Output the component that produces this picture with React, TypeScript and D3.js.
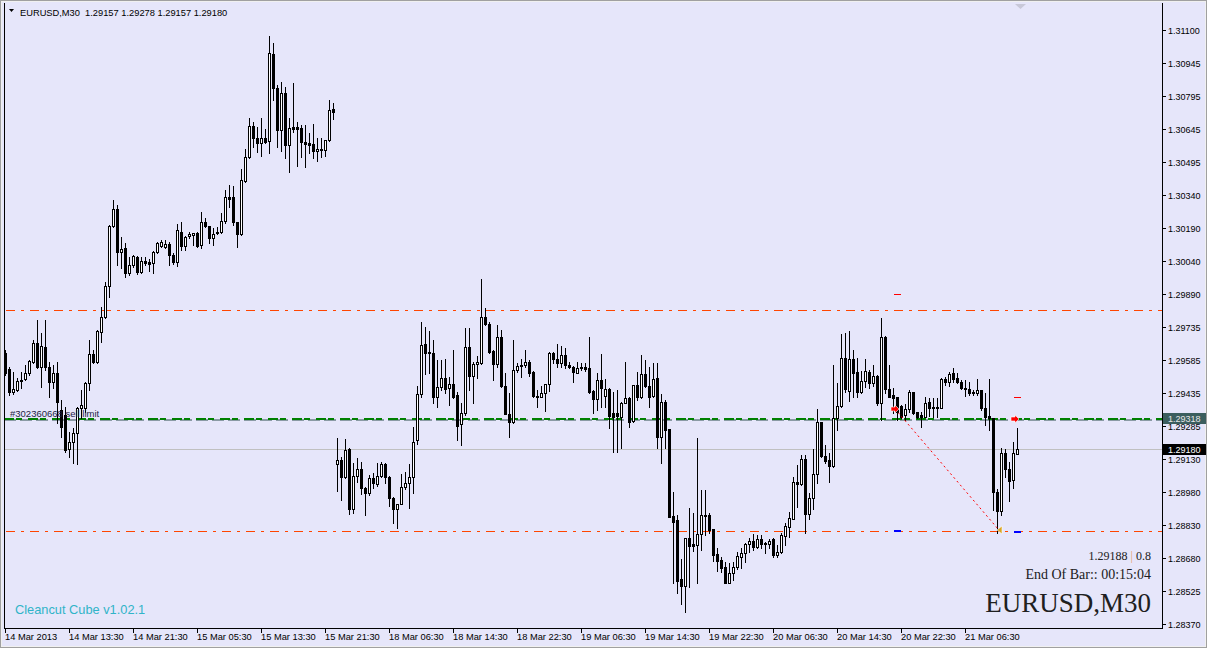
import React from "react";
import * as d3 from "d3";

// OHLC of each M30 bar, oldest first
const ohlc: [number, number, number, number][] = [
  [1.29621, 1.29634, 1.2952, 1.29529], [1.29547, 1.29556, 1.29428, 1.29442], [1.29442, 1.29533, 1.29432, 1.29455],
  [1.29451, 1.29506, 1.29446, 1.29492], [1.29492, 1.29533, 1.2946, 1.29497], [1.29501, 1.29566, 1.29497, 1.29529],
  [1.29529, 1.29589, 1.2952, 1.29584], [1.29579, 1.2968, 1.29575, 1.29667], [1.29667, 1.29772, 1.29552, 1.29556],
  [1.29556, 1.29712, 1.29465, 1.29653], [1.29648, 1.29772, 1.29543, 1.29556], [1.29556, 1.29579, 1.29419, 1.29488],
  [1.29488, 1.29566, 1.2946, 1.29529], [1.29529, 1.29579, 1.29299, 1.29396], [1.29359, 1.29405, 1.29235, 1.29281],
  [1.29336, 1.29373, 1.29166, 1.29175], [1.2918, 1.29258, 1.29143, 1.29212], [1.29212, 1.29276, 1.29116, 1.29253],
  [1.29253, 1.29373, 1.29111, 1.29368], [1.29368, 1.29451, 1.29322, 1.29382], [1.29368, 1.29488, 1.2935, 1.29483],
  [1.29483, 1.2968, 1.29451, 1.29616], [1.29616, 1.29634, 1.29575, 1.29579], [1.29579, 1.29726, 1.29575, 1.29722],
  [1.29717, 1.29832, 1.29671, 1.29786], [1.29786, 1.29947, 1.29781, 1.29928], [1.29928, 1.30208, 1.29878, 1.30204],
  [1.30204, 1.30323, 1.30199, 1.30282], [1.30282, 1.303, 1.30025, 1.30084], [1.30084, 1.30153, 1.30011, 1.30098],
  [1.30103, 1.30126, 1.2997, 1.29988], [1.29988, 1.30061, 1.29979, 1.30025], [1.30025, 1.30071, 1.30015, 1.30066],
  [1.30061, 1.30066, 1.29983, 1.29992], [1.29992, 1.30061, 1.29988, 1.30043], [1.30043, 1.30061, 1.30025, 1.30034],
  [1.30038, 1.30052, 1.29997, 1.30029], [1.30034, 1.30089, 1.29988, 1.30084], [1.30084, 1.3013, 1.3008, 1.30126],
  [1.30112, 1.30139, 1.30107, 1.3013], [1.30107, 1.30139, 1.30103, 1.30121], [1.30121, 1.3013, 1.30025, 1.30071],
  [1.30071, 1.3008, 1.30029, 1.30038], [1.30038, 1.30213, 1.3002, 1.30185], [1.30176, 1.30222, 1.30093, 1.30112],
  [1.30112, 1.30158, 1.30093, 1.30153], [1.30158, 1.30176, 1.30149, 1.30167], [1.30162, 1.30171, 1.30116, 1.30171],
  [1.30171, 1.30176, 1.30107, 1.30112], [1.30116, 1.30268, 1.30103, 1.30222], [1.30222, 1.3024, 1.30199, 1.30204],
  [1.30204, 1.30204, 1.30126, 1.30149], [1.30149, 1.30194, 1.30116, 1.30167], [1.30176, 1.30199, 1.30167, 1.30171],
  [1.30176, 1.30263, 1.30171, 1.30227], [1.30227, 1.30369, 1.30217, 1.30337], [1.30337, 1.30392, 1.30291, 1.30328],
  [1.30337, 1.30387, 1.30208, 1.30222], [1.30222, 1.30222, 1.30107, 1.30167], [1.30167, 1.30465, 1.30162, 1.30415],
  [1.3041, 1.30557, 1.30406, 1.3052], [1.3052, 1.30699, 1.30516, 1.30663], [1.30663, 1.30681, 1.30566, 1.30608],
  [1.30608, 1.30658, 1.30543, 1.30585], [1.30585, 1.30699, 1.30525, 1.30608], [1.30608, 1.30649, 1.30585, 1.30589],
  [1.30594, 1.31076, 1.30539, 1.30998], [1.30993, 1.31044, 1.30782, 1.30837], [1.30837, 1.30851, 1.30566, 1.30644],
  [1.30644, 1.30865, 1.30548, 1.30814], [1.30814, 1.30842, 1.30516, 1.30575], [1.30575, 1.30699, 1.30451, 1.30653],
  [1.30658, 1.3086, 1.30635, 1.30649], [1.30658, 1.30681, 1.30479, 1.30649], [1.30653, 1.30667, 1.3052, 1.30589],
  [1.30589, 1.30667, 1.30474, 1.3058], [1.30585, 1.3063, 1.30539, 1.30575], [1.3058, 1.30672, 1.30516, 1.30548],
  [1.30548, 1.30608, 1.30502, 1.30557], [1.30552, 1.30608, 1.3052, 1.30557], [1.30552, 1.30598, 1.30525, 1.30598],
  [1.30598, 1.30782, 1.30594, 1.30736], [1.30741, 1.30768, 1.30695, 1.30727], [1.29111, 1.2923, 1.28987, 1.29129],
  [1.29129, 1.29143, 1.28946, 1.29051], [1.29051, 1.29226, 1.29047, 1.29175], [1.2918, 1.29185, 1.28882, 1.28905],
  [1.28905, 1.29116, 1.28886, 1.29056], [1.29056, 1.29139, 1.29029, 1.29088], [1.29088, 1.2912, 1.28973, 1.29001],
  [1.29001, 1.29006, 1.28877, 1.28978], [1.28978, 1.29061, 1.28969, 1.29047], [1.29047, 1.2907, 1.29001, 1.29024],
  [1.29019, 1.29116, 1.2901, 1.29056], [1.29056, 1.2912, 1.29051, 1.29111], [1.29111, 1.29116, 1.29024, 1.29051],
  [1.29051, 1.29056, 1.28918, 1.28955], [1.28955, 1.2896, 1.2884, 1.28905], [1.28905, 1.28928, 1.28817, 1.28928],
  [1.28928, 1.29065, 1.28928, 1.29006], [1.29006, 1.29074, 1.28996, 1.29024], [1.29024, 1.29111, 1.28909, 1.29051],
  [1.29051, 1.29281, 1.28978, 1.29212], [1.29221, 1.29469, 1.29203, 1.29432], [1.29432, 1.29763, 1.29419, 1.29657],
  [1.29662, 1.2974, 1.29524, 1.29621], [1.29625, 1.29722, 1.29529, 1.29621], [1.29621, 1.2968, 1.29391, 1.29419],
  [1.29419, 1.29589, 1.29373, 1.29465], [1.29465, 1.29589, 1.29451, 1.29506], [1.29506, 1.29593, 1.29437, 1.29455],
  [1.2946, 1.29511, 1.29382, 1.29478], [1.29478, 1.29634, 1.29414, 1.29419], [1.29428, 1.29442, 1.29221, 1.29286],
  [1.29295, 1.29391, 1.29198, 1.29345], [1.29345, 1.29735, 1.29336, 1.29648], [1.29648, 1.29735, 1.29451, 1.29515],
  [1.29515, 1.29579, 1.29391, 1.2957], [1.2957, 1.29607, 1.29506, 1.29579], [1.29575, 1.2996, 1.2957, 1.29786],
  [1.29786, 1.29827, 1.29749, 1.29754], [1.29754, 1.29763, 1.29621, 1.29625], [1.2963, 1.29634, 1.29497, 1.2957],
  [1.2957, 1.29749, 1.29556, 1.29694], [1.29694, 1.29726, 1.29465, 1.29469], [1.29469, 1.29529, 1.29341, 1.29341],
  [1.29341, 1.29437, 1.29235, 1.29304], [1.29304, 1.2968, 1.29299, 1.29543], [1.29543, 1.29575, 1.29533, 1.29561],
  [1.29561, 1.29593, 1.29511, 1.29566], [1.29566, 1.29634, 1.29556, 1.29579], [1.29579, 1.29589, 1.29515, 1.29529],
  [1.29533, 1.29538, 1.29419, 1.29423], [1.29423, 1.29451, 1.29373, 1.29419], [1.29419, 1.29469, 1.29419, 1.29437],
  [1.29437, 1.29478, 1.29354, 1.29478], [1.29478, 1.29625, 1.29446, 1.29621], [1.29621, 1.29625, 1.29575, 1.29593],
  [1.29593, 1.29662, 1.29556, 1.29575], [1.29575, 1.29653, 1.29556, 1.29612], [1.29612, 1.29644, 1.29552, 1.29566],
  [1.29566, 1.29579, 1.29552, 1.29556], [1.29556, 1.29561, 1.29488, 1.29533], [1.29529, 1.29579, 1.29529, 1.29552],
  [1.29552, 1.29575, 1.29543, 1.29556], [1.29556, 1.29575, 1.29538, 1.29547], [1.29552, 1.29694, 1.29437, 1.29442],
  [1.29446, 1.29451, 1.29345, 1.2941], [1.2941, 1.29529, 1.29359, 1.29497], [1.29497, 1.29616, 1.29373, 1.2946],
  [1.29423, 1.29501, 1.29373, 1.29455], [1.29455, 1.2946, 1.29276, 1.29332], [1.29345, 1.29442, 1.29166, 1.29327],
  [1.29345, 1.29451, 1.29166, 1.29332], [1.29327, 1.29396, 1.29185, 1.29391], [1.29391, 1.29579, 1.29391, 1.29414],
  [1.29414, 1.29419, 1.29281, 1.29304], [1.29309, 1.29474, 1.29304, 1.29474], [1.29474, 1.29533, 1.29405, 1.29419],
  [1.29419, 1.29612, 1.29414, 1.29524], [1.29524, 1.29589, 1.29465, 1.29469], [1.29469, 1.29556, 1.29373, 1.29419],
  [1.29423, 1.29575, 1.29419, 1.29501], [1.29506, 1.29575, 1.29185, 1.29235], [1.29235, 1.29432, 1.29116, 1.29396],
  [1.29396, 1.29405, 1.29185, 1.29267], [1.29272, 1.29272, 1.28868, 1.28868], [1.28872, 1.28983, 1.28565, 1.28845],
  [1.28854, 1.28877, 1.28519, 1.28574], [1.28583, 1.28675, 1.28469, 1.28551], [1.28551, 1.28772, 1.28432, 1.28772],
  [1.28772, 1.28909, 1.28547, 1.28735], [1.28744, 1.28886, 1.28712, 1.28735], [1.28739, 1.2923, 1.28565, 1.2879],
  [1.2879, 1.28992, 1.28716, 1.28877], [1.28877, 1.28992, 1.28785, 1.28872], [1.28877, 1.28886, 1.28794, 1.28808],
  [1.28813, 1.28813, 1.28666, 1.28694], [1.28698, 1.28726, 1.2862, 1.28666], [1.28671, 1.28684, 1.28615, 1.28634],
  [1.28638, 1.28661, 1.28565, 1.28565], [1.28565, 1.28657, 1.28565, 1.28611], [1.28611, 1.28661, 1.28579, 1.28638],
  [1.28638, 1.28707, 1.28629, 1.28689], [1.28684, 1.28726, 1.28634, 1.28703], [1.28703, 1.28749, 1.28661, 1.28744],
  [1.28744, 1.28772, 1.28707, 1.28758], [1.28758, 1.2879, 1.28716, 1.2873], [1.2873, 1.28785, 1.28726, 1.28767],
  [1.28767, 1.28785, 1.28726, 1.28744], [1.28749, 1.28753, 1.28703, 1.28744], [1.28744, 1.28767, 1.28726, 1.28758],
  [1.28767, 1.28772, 1.28684, 1.28694], [1.28694, 1.28739, 1.28684, 1.28707], [1.28707, 1.28794, 1.28703, 1.28785],
  [1.28781, 1.2884, 1.28739, 1.28827], [1.28822, 1.28891, 1.28776, 1.28863], [1.28859, 1.29051, 1.28859, 1.29029],
  [1.29029, 1.29107, 1.28914, 1.29019], [1.29019, 1.29152, 1.29015, 1.29134], [1.29134, 1.29152, 1.28794, 1.28882],
  [1.28882, 1.28978, 1.28859, 1.28955], [1.28955, 1.2918, 1.28905, 1.29065], [1.29065, 1.29364, 1.29024, 1.29304],
  [1.29304, 1.29304, 1.29143, 1.29148], [1.29148, 1.29198, 1.29116, 1.29125], [1.29129, 1.29162, 1.29029, 1.29102],
  [1.29102, 1.29566, 1.29097, 1.29322], [1.29322, 1.29483, 1.29267, 1.29377], [1.29377, 1.29708, 1.29373, 1.29598],
  [1.29598, 1.29712, 1.29442, 1.29455], [1.29446, 1.29722, 1.294, 1.29593], [1.29593, 1.29634, 1.29419, 1.29529],
  [1.29533, 1.29598, 1.29419, 1.29442], [1.29442, 1.29538, 1.29437, 1.29492], [1.29492, 1.29593, 1.29465, 1.29538],
  [1.29533, 1.29543, 1.2946, 1.29483], [1.29483, 1.29566, 1.29469, 1.29515], [1.29515, 1.2952, 1.29382, 1.29391],
  [1.29391, 1.29781, 1.29313, 1.29694], [1.29694, 1.29699, 1.29437, 1.29455], [1.29455, 1.29566, 1.29419, 1.29419],
  [1.29428, 1.2946, 1.29345, 1.29414], [1.29419, 1.29419, 1.29313, 1.2935], [1.29377, 1.29382, 1.29322, 1.29327],
  [1.29336, 1.29387, 1.29313, 1.29364], [1.29364, 1.29451, 1.2935, 1.29442], [1.29442, 1.29442, 1.29341, 1.29345],
  [1.2935, 1.2935, 1.29322, 1.29327], [1.29336, 1.2935, 1.29281, 1.29327], [1.29327, 1.29419, 1.29327, 1.29391],
  [1.29396, 1.29414, 1.29332, 1.29368], [1.29373, 1.29414, 1.29327, 1.29368], [1.29373, 1.29414, 1.29327, 1.29368],
  [1.29368, 1.29506, 1.29368, 1.29501], [1.29501, 1.29511, 1.29474, 1.29488], [1.29488, 1.29533, 1.29469, 1.29524],
  [1.29529, 1.29552, 1.29488, 1.29501], [1.29506, 1.29529, 1.29483, 1.29488], [1.29488, 1.29497, 1.29455, 1.2946],
  [1.2946, 1.29497, 1.29423, 1.29455], [1.29455, 1.29488, 1.29428, 1.29437], [1.29437, 1.29451, 1.29428, 1.29442],
  [1.29437, 1.29501, 1.29428, 1.29451], [1.29451, 1.29451, 1.29359, 1.29368], [1.29368, 1.29437, 1.2929, 1.29327],
  [1.29332, 1.29501, 1.29267, 1.29322], [1.29322, 1.29322, 1.289, 1.28983], [1.28983, 1.28996, 1.28794, 1.28895],
  [1.28895, 1.29185, 1.28877, 1.29162], [1.29162, 1.2918, 1.29051, 1.29088], [1.29088, 1.2912, 1.28941, 1.29033],
  [1.29038, 1.29212, 1.29001, 1.29162], [1.29157, 1.29278, 1.29157, 1.2918],
];

// time axis labels, one every 16 bars
const timeLabels = [
  "14 Mar 2013", "14 Mar 13:30", "14 Mar 21:30", "15 Mar 05:30", "15 Mar 13:30", "15 Mar 21:30",
  "18 Mar 06:30", "18 Mar 14:30", "18 Mar 22:30", "19 Mar 06:30", "19 Mar 14:30", "19 Mar 22:30",
  "20 Mar 06:30", "20 Mar 14:30", "20 Mar 22:30", "21 Mar 06:30",
];
const barsPerTimeLabel = 16;

// price grid values and their printed labels
const priceTicks = [
  1.31103, 1.30952, 1.308, 1.30649, 1.30497, 1.30346, 1.30194, 1.30043, 1.29891, 1.2974,
  1.29588, 1.29437, 1.29285, 1.29134, 1.28983, 1.28831, 1.2868, 1.28528, 1.28377,
];
const priceTickLabels = [
  "1.31100", "1.30945", "1.30795", "1.30645", "1.30495", "1.30340", "1.30190", "1.30040", "1.29890", "1.29735",
  "1.29585", "1.29435", "1.29285", "1.29130", "1.28980", "1.28830", "1.28680", "1.28525", "1.28370",
];

// horizontal levels
const levelLines = [1.29818, 1.28802];
const pendingPrice = 1.29318;
const pendingLabel = "#302360668 sell limit";
const bidPrice = 1.2918;

// trade history: open (bar index, price) -> close (bar index, price)
const tradeIdx = [222.5, 248.5];
const tradePrice = [1.29364, 1.28808];
const pendingArrowIdx = 252.5;
// stop-loss / take-profit markers: bar index, price
const slIdx = [223, 253];
const slPrice = [1.29891, 1.29419];
const tpIdx = [223, 253];
const tpPrice = [1.28808, 1.28804];

const headerText = "EURUSD,M30  1.29157 1.29278 1.29157 1.29180";
const infoLine1a = "1.29188 ";
const infoLine1b = "|";
const infoLine1c = " 0.8";
const infoLine2 = "End Of Bar:: 00:15:04";
const symbolText = "EURUSD,M30";
const brandText = "Cleancut Cube v1.02.1";

const BG = "#E6E6FA";
const SANS = "'Liberation Sans', Arial, sans-serif";
const SERIF = "'Liberation Serif', 'Times New Roman', serif";

export default function App() {
  const W = 1207;
  const H = 648;
  const plotL = 4;
  const plotR = 1162;
  const plotT = 3;
  const plotB = 628;

  const x = d3.scaleLinear().domain([0, ohlc.length - 1]).range([5, 1017]);
  const y = d3.scaleLinear().domain([1.2837, 1.311]).range([625.5, 30.7]);
  const ry = (p: number) => Math.round(y(p));

  const candles = ohlc.map(([o, h, l, c], i) => {
    const cx = Math.round(x(i));
    const bull = c > o;
    const top = ry(Math.max(o, c));
    const bot = ry(Math.min(o, c));
    const hy = ry(h);
    const ly = ry(l);
    const bh = Math.max(1, bot - top + 1);
    return (
      <g key={i}>
        <rect x={cx} y={hy} width={1} height={ly - hy + 1} fill="#000" />
        <rect x={cx - 1} y={top} width={3} height={bh} fill="#000" />
        {bull && bh > 2 ? <rect x={cx} y={top + 1} width={1} height={bh - 2} fill="#fff" /> : null}
      </g>
    );
  });

  const pendY = ry(pendingPrice) + 0.5;
  const bidY = ry(bidPrice) + 0.5;

  const arrowRight = (cx: number, cy: number, color: string, key: string) => (
    <g key={key}>
      <polygon
        points={`${cx - 4},${cy - 2} ${cx},${cy - 2} ${cx},${cy - 4} ${cx + 4},${cy} ${cx},${cy + 4} ${cx},${cy + 2} ${cx - 4},${cy + 2}`}
        fill={color}
        stroke="#fff"
        strokeWidth={0.6}
      />
    </g>
  );

  return (
    <div style={{ position: "absolute", left: 0, top: 0, width: W, height: H, background: BG }}>
      <svg width={W} height={H} viewBox={`0 0 ${W} ${H}`} style={{ display: "block" }}>
        <defs>
          <clipPath id="plot">
            <rect x={plotL + 1} y={plotT + 1} width={plotR - plotL - 1} height={plotB - plotT - 1} />
          </clipPath>
        </defs>
        <rect x={0} y={0} width={W} height={H} fill={BG} />
        {/* window frame */}
        <rect x={0.5} y={0.5} width={W - 1} height={H - 1} fill="none" stroke="#A0A0A0" />
        <rect x={1.5} y={1.5} width={W - 3} height={H - 3} fill="none" stroke="#F0F0F0" />

        {/* plot frame */}
        <line x1={plotL + 0.5} y1={plotT} x2={plotL + 0.5} y2={plotB + 1} stroke="#000" />
        <line x1={plotL} y1={plotB + 0.5} x2={plotR + 1} y2={plotB + 0.5} stroke="#000" />
        <line x1={plotR + 0.5} y1={plotT} x2={plotR + 0.5} y2={plotB + 1} stroke="#000" />

        <g clipPath="url(#plot)">
          {/* bid line */}
          <line x1={plotL} x2={plotR} y1={bidY} y2={bidY} stroke="#C0C0C0" strokeWidth={1} />
          {/* level lines */}
          {levelLines.map((p, i) => (
            <line
              key={i}
              x1={plotL}
              x2={plotR}
              y1={ry(p) + 0.5}
              y2={ry(p) + 0.5}
              stroke="#FF4500"
              strokeWidth={1}
              strokeDasharray="9,6,3,6"
              strokeDashoffset={-2}
            />
          ))}
          {/* pending order line */}
          <line x1={plotL} x2={plotR} y1={pendY + 0.5} y2={pendY + 0.5} stroke="#2F4F4F" strokeWidth={1} strokeDasharray="12,4" />
          <line x1={plotL} x2={plotR} y1={pendY - 0.5} y2={pendY - 0.5} stroke="#008000" strokeWidth={2} strokeDasharray="10,14" />
          <line x1={plotL} x2={plotR} y1={pendY - 0.5} y2={pendY - 0.5} stroke="#008000" strokeWidth={2} strokeDasharray="6,18" strokeDashoffset={-12} />

          {candles}

          {/* trade line */}
          <line
            x1={x(tradeIdx[0])}
            y1={y(tradePrice[0])}
            x2={x(tradeIdx[1])}
            y2={y(tradePrice[1])}
            stroke="#FF0000"
            strokeWidth={1}
            strokeDasharray="2,3"
          />
          {slIdx.map((i, k) => (
            <rect key={"sl" + k} x={Math.round(x(i)) - 3} y={ry(slPrice[k])} width={7} height={1} fill="#FF0000" />
          ))}
          {tpIdx.map((i, k) => (
            <rect key={"tp" + k} x={Math.round(x(i)) - 3} y={ry(tpPrice[k])} width={7} height={2} fill="#0000FF" />
          ))}
          {arrowRight(Math.round(x(tradeIdx[0])), ry(tradePrice[0]), "#FF0000", "a1")}
          {arrowRight(Math.round(x(pendingArrowIdx)), ry(pendingPrice), "#FF0000", "a2")}
          <polygon
            points={`${Math.round(x(tradeIdx[1])) + 3},${ry(tradePrice[1]) - 4} ${Math.round(x(tradeIdx[1])) - 2},${ry(tradePrice[1])} ${Math.round(x(tradeIdx[1])) + 3},${ry(tradePrice[1]) + 4}`}
            fill="#DAA520"
            stroke="#fff"
            strokeWidth={0.6}
          />

          {/* pending label */}
          <text x={10} y={pendY - 3} fontFamily={SANS} fontSize={9.5} fill="#1E1E46">
            {pendingLabel}
          </text>
        </g>

        {/* header */}
        <polygon points="9,9 14,9 11.5,12" fill="#000" />
        <text x={20} y={16} fontFamily={SANS} fontSize={9.3} fill="#000" style={{ whiteSpace: "pre" }}>
          {headerText}
        </text>
        <polygon points="1015,4 1026,4 1020.5,9" fill="#C8C8D8" />

        {/* price axis */}
        {priceTicks.map((p, i) => (
          <g key={i}>
            <line x1={plotR + 1} x2={plotR + 4} y1={ry(p) + 0.5} y2={ry(p) + 0.5} stroke="#000" />
            <text x={1168} y={ry(p) + 3.5} fontFamily={SANS} fontSize={9} fill="#000">
              {priceTickLabels[i]}
            </text>
          </g>
        ))}
        <rect x={plotR + 1} y={ry(pendingPrice) - 6} width={43} height={11} fill="#3B5E5E" />
        <text x={1168} y={ry(pendingPrice) + 2.5} fontFamily={SANS} fontSize={9} fill="#E8E8E8">
          {pendingPrice.toFixed(5)}
        </text>
        <rect x={plotR + 1} y={ry(bidPrice) - 5} width={43} height={11} fill="#000" />
        <text x={1168} y={ry(bidPrice) + 3.5} fontFamily={SANS} fontSize={9} fill="#fff">
          {bidPrice.toFixed(5)}
        </text>

        {/* time axis */}
        {timeLabels.map((t, k) => {
          const tx = Math.round(x(k * barsPerTimeLabel));
          return (
            <g key={k}>
              <line x1={tx + 0.5} x2={tx + 0.5} y1={plotB} y2={plotB + 5} stroke="#000" />
              <text x={tx} y={640} fontFamily={SANS} fontSize={9.3} fill="#000">
                {t}
              </text>
            </g>
          );
        })}

        {/* info texts */}
        <text x={1151} y={560} textAnchor="end" fontFamily={SERIF} fontSize={12} fill="#202020" style={{ whiteSpace: "pre" }}>
          {infoLine1a}
          <tspan fill="#E8A070">{infoLine1b}</tspan>
          {infoLine1c}
        </text>
        <text x={1151} y={579} textAnchor="end" fontFamily={SERIF} fontSize={14} fill="#202020">
          {infoLine2}
        </text>
        <text x={1151} y={612} textAnchor="end" fontFamily={SERIF} fontSize={27} fill="#202020">
          {symbolText}
        </text>
        <text x={15} y={614} fontFamily={SANS} fontSize={12.8} fill="#30B4C8">
          {brandText}
        </text>
      </svg>
    </div>
  );
}
